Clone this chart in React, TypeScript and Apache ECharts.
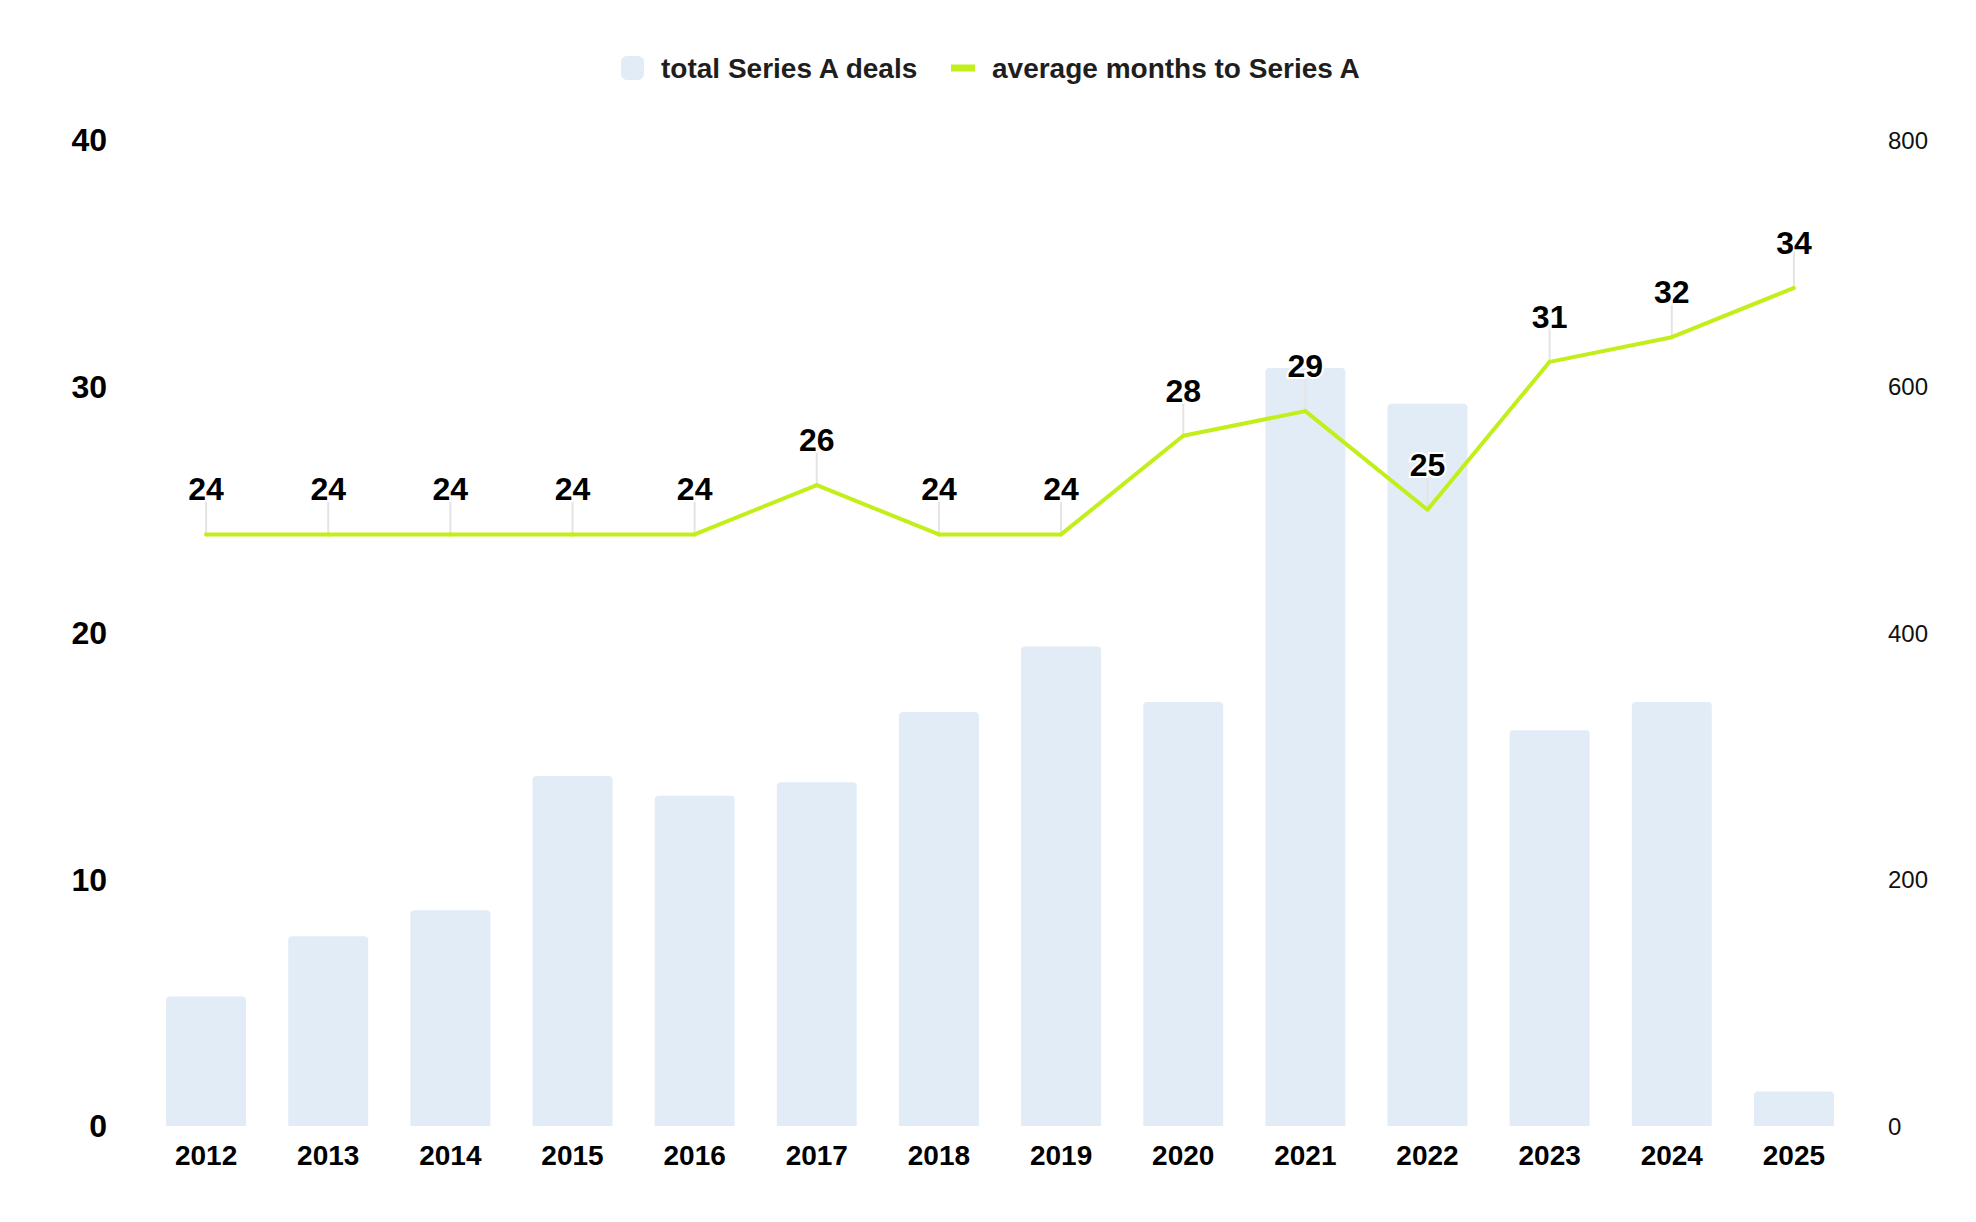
import React, { useEffect, useRef } from "react";
import * as echarts from "echarts";

const years = [
  "2012", "2013", "2014", "2015", "2016", "2017", "2018",
  "2019", "2020", "2021", "2022", "2023", "2024", "2025",
];
// total Series A deals (right axis)
const dealCounts = [105, 154, 175, 284, 268, 279, 336, 389, 344, 615, 586, 321, 344, 28];
// average months to Series A (left axis)
const avgMonths = [24, 24, 24, 24, 24, 26, 24, 24, 28, 29, 25, 31, 32, 34];

const BAR_NAME = "total Series A deals";
const LINE_NAME = "average months to Series A";
const FONT = "'Liberation Sans', Arial, Helvetica, sans-serif";
const LIME = "#c2ef1a";
const BAR_BLUE = "#e2ecf7";

const App: React.FC = () => {
  const chartRef = useRef<HTMLDivElement>(null);

  useEffect(() => {
    if (!chartRef.current) return;
    const chart = echarts.init(chartRef.current, undefined, { renderer: "svg" });

    const legendText = {
      fontFamily: FONT,
      fontSize: 28,
      fontWeight: "bold",
      color: "#1e1e1e",
      lineHeight: 24,
      padding: [0, 0, 0, 12],
    };

    const option = {
      animation: false,
      backgroundColor: "#fff",
      textStyle: { fontFamily: FONT },
      legend: [
        {
          data: [{ name: BAR_NAME, icon: "roundRect" }],
          left: 608,
          top: 41,
          itemWidth: 23,
          itemHeight: 24,
          textStyle: legendText,
          selectedMode: false,
        },
        {
          data: [{ name: LINE_NAME, icon: "rect" }],
          left: 938,
          top: 41,
          itemWidth: 24,
          itemHeight: 7,
          textStyle: legendText,
          selectedMode: false,
        },
      ],
      grid: { left: 137, right: 113, top: 132, bottom: 88 },
      xAxis: {
        type: "category",
        data: years,
        axisLine: { show: false },
        axisTick: { show: false },
        axisLabel: {
          margin: 15,
          fontSize: 28,
          fontWeight: "bold",
          color: "#000",
          fontFamily: FONT,
        },
      },
      yAxis: [
        {
          type: "value",
          min: 0,
          max: 40,
          interval: 10,
          position: "left",
          splitLine: { show: false },
          axisLine: { show: false },
          axisTick: { show: false },
          axisLabel: {
            margin: 38,
            fontSize: 32,
            fontWeight: "bold",
            color: "#000",
            fontFamily: FONT,
          },
        },
        {
          type: "value",
          min: 0,
          max: 800,
          interval: 200,
          position: "right",
          splitLine: { show: false },
          axisLine: { show: false },
          axisTick: { show: false },
          axisLabel: {
            margin: 33,
            fontSize: 24,
            color: "#111",
            fontFamily: FONT,
          },
        },
      ],
      series: [
        {
          name: BAR_NAME,
          type: "bar",
          yAxisIndex: 1,
          data: dealCounts,
          barWidth: 80,
          itemStyle: { color: BAR_BLUE, borderRadius: [4, 4, 0, 0] },
          z: 1,
        },
        {
          // thin leader lines from each point up to its label
          name: "leaders",
          type: "custom",
          yAxisIndex: 0,
          data: avgMonths.map((v, i) => [i, v]),
          z: 2,
          silent: true,
          renderItem: (params: any, api: any) => {
            const p = api.coord([api.value(0), api.value(1)]);
            return {
              type: "line",
              shape: { x1: p[0], y1: p[1], x2: p[0], y2: p[1] - 38 },
              style: { stroke: "#e4e4e4", lineWidth: 2 },
            };
          },
        },
        {
          name: LINE_NAME,
          type: "line",
          yAxisIndex: 0,
          data: avgMonths,
          symbol: "circle",
          symbolSize: 4,
          showSymbol: true,
          itemStyle: { color: LIME },
          lineStyle: { color: LIME, width: 4 },
          z: 3,
          label: {
            show: true,
            position: "top",
            distance: 27,
            fontSize: 32,
            fontWeight: "bold",
            color: "#000",
            fontFamily: FONT,
            textBorderColor: "#fff",
            textBorderWidth: 4,
          },
        },
      ],
    };

    chart.setOption(option);
    return () => {
      chart.dispose();
    };
  }, []);

  return <div ref={chartRef} style={{ width: "100%", height: 1206 }} />;
};

export default App;
